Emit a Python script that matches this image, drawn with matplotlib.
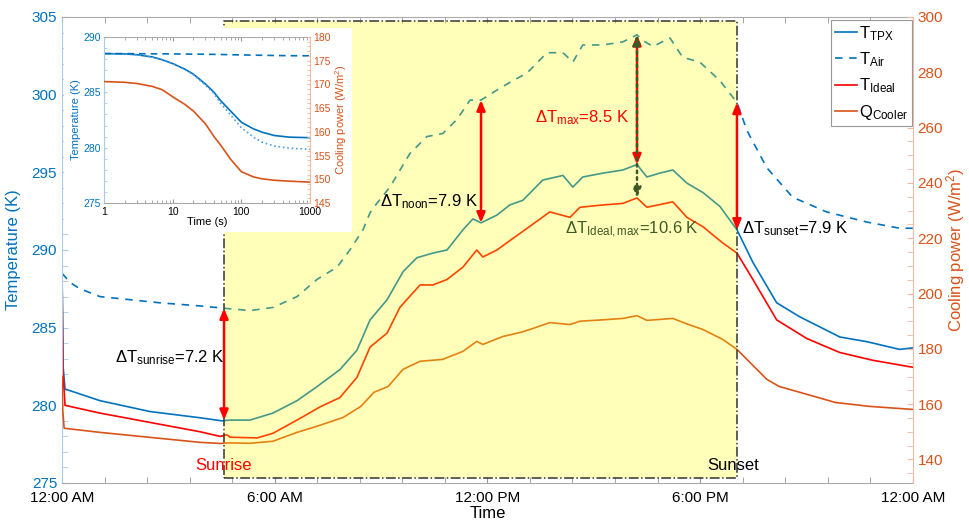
import numpy as np
import matplotlib.pyplot as plt
from matplotlib.patches import Rectangle
from matplotlib.ticker import MultipleLocator

plt.rcParams['font.family'] = ['Liberation Sans', 'DejaVu Sans']
plt.rcParams['mathtext.fontset'] = 'custom'
plt.rcParams['mathtext.rm'] = 'Liberation Sans'
plt.rcParams['mathtext.it'] = 'Liberation Sans:italic'
plt.rcParams['mathtext.bf'] = 'Liberation Sans:bold'

# ---- main day curves (time in hours after midnight) ----
t_tpx = [0.0, 0.03, 0.085, 1.07, 2.48, 3.89, 4.51, 4.74, 5.30, 5.95, 6.63, 7.19, 7.84, 8.32,
         8.69, 9.17, 9.62, 10.01, 10.46, 10.86, 11.31, 11.59, 11.82, 12.27, 12.63, 13.0,
         13.56, 14.13, 14.41, 14.69, 15.26, 15.82, 16.22, 16.50, 16.86, 17.23, 17.63, 18.08,
         18.56, 19.04, 19.49, 20.16, 20.81, 21.94, 22.70, 23.63, 24.0]
T_tpx = [288.5, 282.5, 281.05, 280.3, 279.6, 279.2, 279.0, 279.05, 279.05, 279.5, 280.3, 281.2,
         282.3, 283.55, 285.5, 286.8, 288.6, 289.5, 289.8, 290.0, 291.3, 292.0, 291.75, 292.25,
         292.9, 293.2, 294.5, 294.8, 294.05, 294.7, 294.95, 295.15, 295.5, 294.7, 294.95, 295.15,
         294.3, 293.7, 292.8, 291.3, 289.2, 286.6, 285.7, 284.4, 284.1, 283.6, 283.7]

t_air = [0.0, 0.23, 0.51, 1.07, 1.92, 2.76, 3.89, 4.57, 5.30, 5.95, 6.63, 7.19, 7.76, 8.12,
         8.49, 8.69, 8.88, 9.25, 9.81, 10.29, 10.74, 11.14, 11.51, 11.82, 12.27, 12.72, 13.12,
         13.68, 14.13, 14.41, 14.69, 15.26, 15.82, 16.22, 16.38, 16.67, 17.15, 17.51, 17.99,
         18.56, 19.04, 19.32, 19.88, 20.61, 21.57, 22.70, 23.63, 24.0]
T_air = [288.5, 287.9, 287.5, 287.0, 286.8, 286.6, 286.4, 286.25, 286.1, 286.3, 287.0, 288.1,
         288.9, 290.0, 291.3, 292.4, 293.0, 294.05, 296.2, 297.3, 297.5, 298.4, 299.65, 299.65,
         300.3, 300.9, 301.4, 302.7, 302.7, 302.1, 303.2, 303.2, 303.4, 303.85, 303.5, 303.1,
         303.65, 302.4, 302.1, 300.9, 299.5, 297.7, 295.3, 293.4, 292.45, 291.8, 291.4, 291.4]

t_ideal = [0.0, 0.03, 0.085, 1.07, 2.48, 3.89, 4.46, 4.65, 4.74, 5.50, 5.95, 6.63, 7.28, 7.84,
           8.32, 8.69, 9.17, 9.53, 10.10, 10.46, 10.86, 11.31, 11.70, 11.87, 12.27, 12.63,
           13.0, 13.76, 14.33, 14.61, 15.26, 15.82, 16.22, 16.50, 17.23, 17.63, 18.08, 18.64,
           19.04, 19.49, 20.16, 21.01, 21.94, 22.87, 24.0]
T_ideal = [288.5, 282.0, 280.0, 279.5, 278.9, 278.3, 278.0, 278.1, 277.95, 277.9, 278.2, 279.05,
           279.9, 280.5, 281.8, 283.75, 284.65, 286.3, 287.75, 287.75, 288.1, 288.9, 290.0,
           289.55, 290.0, 290.6, 291.2, 292.45, 292.1, 292.75, 292.9, 293.0, 293.35, 292.75,
           293.1, 292.1, 291.5, 290.45, 289.8, 288.1, 285.5, 284.3, 283.4, 282.9, 282.45]

t_q = [0.0, 0.02, 0.06, 1.07, 2.48, 3.89, 4.46, 4.74, 5.30, 5.95, 6.63, 7.19, 7.93, 8.43, 8.80,
       9.20, 9.62, 10.10, 10.74, 11.31, 11.70, 11.87, 12.44, 12.92, 13.20, 13.76, 14.33, 14.61,
       15.26, 15.82, 16.22, 16.50, 17.23, 17.63, 18.08, 18.64, 19.04, 19.88, 20.23, 20.81,
       21.82, 22.78, 24.0]
Q_cool = [170.0, 158.0, 151.3, 149.8, 148.0, 146.2, 145.8, 146.0, 145.85, 146.6, 149.8, 152.0,
          155.2, 159.2, 164.3, 166.4, 172.6, 175.5, 176.2, 179.1, 182.7, 181.6, 184.5, 185.9,
          187.0, 189.5, 188.8, 190.0, 190.5, 191.0, 192.0, 190.3, 191.0, 189.0, 187.0, 183.4,
          179.8, 169.0, 166.4, 164.3, 160.6, 159.2, 158.1]

# ---- inset: first 1000 s ----
ti = [1, 2, 3, 5, 7, 10, 15, 20, 30, 40, 50, 70, 100, 150, 200, 300, 500, 1000]
Ti_tpx = [288.5, 288.47, 288.4, 288.2, 287.95, 287.6, 287.1, 286.65, 285.75, 285.0, 284.25,
          283.3, 282.3, 281.7, 281.4, 281.1, 280.95, 280.9]
Ti_dot = [288.5, 288.47, 288.4, 288.2, 287.95, 287.6, 287.05, 286.6, 285.65, 284.9, 284.0,
          282.95, 281.8, 280.95, 280.5, 280.15, 279.95, 279.85]
Ti_air = [288.5, 288.5, 288.49, 288.48, 288.48, 288.47, 288.46, 288.45, 288.44, 288.43, 288.42,
          288.4, 288.38, 288.36, 288.35, 288.33, 288.31, 288.3]
Qi = [170.6, 170.45, 170.2, 169.6, 168.9, 167.4, 165.8, 164.4, 161.7, 159.0, 157.2, 154.2,
      151.6, 150.5, 150.1, 149.8, 149.6, 149.4]

sunrise, sunset = 4.57, 19.04
x_noon, x_max = 11.82, 16.22
time_ticks = [0, 6, 12, 18, 24]
time_labels = ['12:00 AM', '6:00 AM', '12:00 PM', '6:00 PM', '12:00 AM']

blue = '#0072BD'
orange = '#D95319'
red = '#FF0000'
green = '#3d5a26'
lblue = '#a9cbe8'
lorange = '#f3b9a3'

fig, ax = plt.subplots(figsize=(9.69, 5.23), dpi=100)
fig.subplots_adjust(left=0.064, right=0.942, bottom=0.0765, top=0.9675)
ax2 = ax.twinx()

l1, = ax.plot(t_tpx, T_tpx, color=blue, lw=1.2)
l2, = ax.plot(t_air, T_air, color=blue, lw=1.2, ls=(0, (4.5, 4)))
l3, = ax.plot(t_ideal, T_ideal, color=red, lw=1.2)
l4, = ax2.plot(t_q, Q_cool, color=orange, lw=1.2)

ax.set_xlim(0, 24)
ax.set_ylim(275, 305)
ax2.set_ylim(131.5, 300)

# daytime box drawn on top of the lines
ax2.add_patch(Rectangle((sunrise, 275.3), sunset - sunrise, 304.75 - 275.3,
                        transform=ax.transData, facecolor=(1, 1, 0, 0.27),
                        edgecolor='#333333', ls='-.', lw=1.1, zorder=3))

def darrow(x, y0, y1, col, ls='-'):
    ax2.annotate('', xy=(x, y1), xytext=(x, y0), xycoords=ax.transData,
                 textcoords=ax.transData,
                 arrowprops=dict(arrowstyle='<|-|>,head_length=0.6,head_width=0.25',
                                 color=col, lw=1.8, ls=ls, shrinkA=0, shrinkB=0),
                 zorder=4)

darrow(sunrise, 286.25, 279.05, red)
darrow(x_noon, 299.65, 291.75, red)
darrow(sunset, 299.5, 291.3, red)
darrow(x_max, 303.85, 295.5, red)
darrow(x_max, 303.85, 293.35, green, ls=':')

tr = ax.transData
ax2.text(1.5, 283.1, r'ΔT$_{\mathrm{sunrise}}$=7.2 K', transform=tr, fontsize=12, va='center', zorder=5)
ax2.text(11.73, 293.1, r'ΔT$_{\mathrm{noon}}$=7.9 K', transform=tr, fontsize=12, va='center', ha='right', zorder=5)
ax2.text(13.34, 298.5, r'ΔT$_{\mathrm{max}}$=8.5 K', transform=tr, fontsize=12, va='center', color=red, zorder=5)
ax2.text(14.19, 291.3, r'ΔT$_{\mathrm{Ideal,max}}$=10.6 K', transform=tr, fontsize=12, va='center', color=green, zorder=5)
ax2.text(19.18, 291.4, r'ΔT$_{\mathrm{sunset}}$=7.9 K', transform=tr, fontsize=12, va='center', zorder=5)
ax2.text(sunrise, 276.1, 'Sunrise', transform=tr, fontsize=12, va='center', ha='center', color=red, zorder=5)
ax2.text(18.92, 276.1, 'Sunset', transform=tr, fontsize=12, va='center', ha='center', zorder=5)

# axes styling
ax.set_xticks(time_ticks)
ax.set_xticklabels(time_labels, fontsize=11)
ax.xaxis.set_minor_locator(MultipleLocator(1.2))
ax.yaxis.set_major_locator(MultipleLocator(5))
ax.yaxis.set_minor_locator(MultipleLocator(1))
ax2.set_yticks(np.arange(140, 301, 20))
ax2.yaxis.set_minor_locator(MultipleLocator(5))
ax.tick_params(axis='x', which='both', direction='in', top=True, color='#999999', length=4, pad=5.5)
ax.tick_params(axis='y', which='both', direction='in', color=lblue, labelcolor=blue, labelsize=11, length=4)
ax2.tick_params(axis='y', which='both', direction='in', color=lorange, labelcolor=orange, labelsize=11, length=4)
for s in ['top', 'bottom']:
    ax.spines[s].set_color('#aaaaaa')
ax.spines['left'].set_color(lblue)
ax.spines['right'].set_visible(False)
ax2.spines['right'].set_color(lorange)
for s in ['left', 'top', 'bottom']:
    ax2.spines[s].set_visible(False)
ax.set_xlabel('Time', fontsize=12, labelpad=1)
ax.set_ylabel('Temperature (K)', fontsize=12, color=blue, labelpad=8)
ax2.set_ylabel('Cooling power (W/m$^2$)', fontsize=12, color=orange, labelpad=1)

leg = ax2.legend([l1, l2, l3, l4],
                 [r'T$_{\mathrm{TPX}}$', r'T$_{\mathrm{Air}}$', r'T$_{\mathrm{Ideal}}$', r'Q$_{\mathrm{Cooler}}$'],
                 loc='upper right', bbox_to_anchor=(0.9995, 0.994), fontsize=12,
                 handlelength=1.3, handletextpad=0.15, borderpad=0.25, labelspacing=0.45,
                 fancybox=False, framealpha=1, edgecolor='#999999', borderaxespad=0)
leg.get_frame().set_linewidth(0.8)
leg.set_zorder(6)

# white backing for the inset
fig.patches.append(Rectangle((64 / 969, 1 - 232 / 523), (352 - 64) / 969, (232 - 28) / 523,
                             transform=fig.transFigure, facecolor='white', edgecolor='none', zorder=1))

axin = fig.add_axes([104 / 969, 1 - 203 / 523, 206 / 969, 166 / 523])
axin.set_zorder(5)
axin2 = axin.twinx()
axin2.set_zorder(6)
axin.plot(ti, Ti_tpx, color=blue, lw=1.2)
axin.plot(ti, Ti_dot, color='#4a9fd8', lw=1.2, ls=':')
axin.plot(ti, Ti_air, color=blue, lw=1.2, ls=(0, (4, 3)))
axin2.plot(ti, Qi, color=orange, lw=1.2)
axin.set_xscale('log')
axin.set_xlim(1, 1000)
axin.set_ylim(275, 290)
axin2.set_ylim(145, 180)
axin.set_xticks([1, 10, 100, 1000])
axin.set_xticklabels(['1', '10', '100', '1000'])
axin.set_yticks([275, 280, 285, 290])
axin.yaxis.set_minor_locator(MultipleLocator(1))
axin2.set_yticks(np.arange(145, 181, 5))
axin2.yaxis.set_minor_locator(MultipleLocator(1))
axin.tick_params(axis='x', which='both', direction='in', top=True, color='#999999', labelsize=7.5, pad=3)
axin.tick_params(axis='x', which='major', length=3)
axin.tick_params(axis='x', which='minor', length=2)
axin.tick_params(axis='y', which='both', direction='in', color=lblue, labelcolor=blue, labelsize=7.5, length=2.5, pad=2)
axin2.tick_params(axis='y', which='both', direction='in', color=lorange, labelcolor=orange, labelsize=7.5, length=2.5, pad=2)
for s in ['top', 'bottom']:
    axin.spines[s].set_color('#aaaaaa')
axin.spines['left'].set_color(lblue)
axin.spines['right'].set_visible(False)
axin2.spines['right'].set_color(lorange)
for s in ['left', 'top', 'bottom']:
    axin2.spines[s].set_visible(False)
axin.set_xlabel('Time (s)', fontsize=8, labelpad=0)
axin.set_ylabel('Temperature (K)', fontsize=8, color=blue, labelpad=2)
axin2.set_ylabel('Cooling power (W/m$^2$)', fontsize=8, color=orange, labelpad=2)

fig.savefig('out.png', dpi=100)
